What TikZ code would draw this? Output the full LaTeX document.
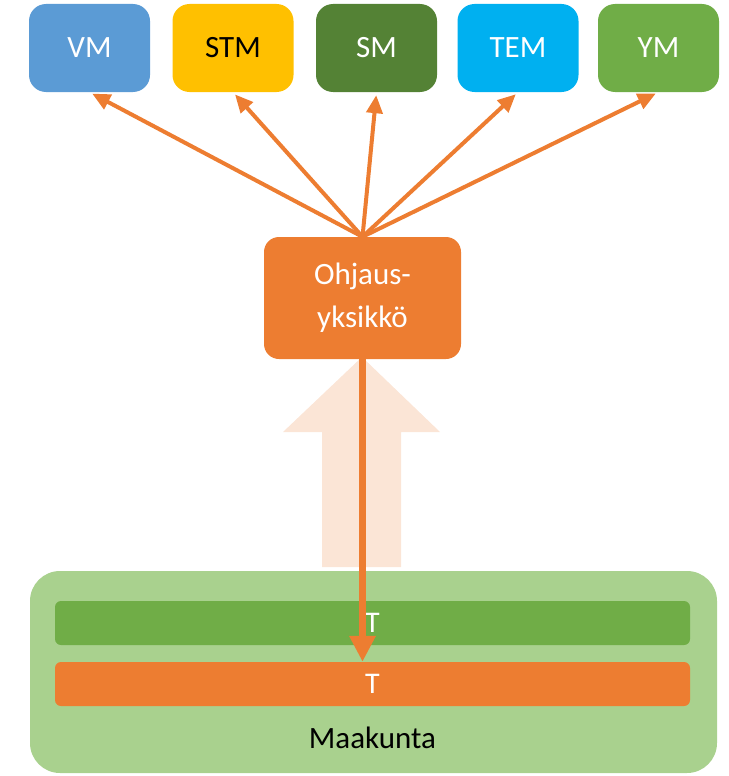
\documentclass[tikz,border=0pt]{standalone}
\usepackage{fontspec}
\setmainfont{Carlito}
\usetikzlibrary{arrows.meta}
\definecolor{cvm}{HTML}{5B9BD5}
\definecolor{cstm}{HTML}{FFC000}
\definecolor{csm}{HTML}{548235}
\definecolor{ctem}{HTML}{00B0F0}
\definecolor{cym}{HTML}{70AD47}
\definecolor{corange}{HTML}{ED7D31}
\definecolor{cpale}{HTML}{FBE5D6}
\definecolor{cmaak}{HTML}{A9D18E}
\definecolor{cbar}{HTML}{70AD47}
\tikzset{
  topbox/.style={rectangle, rounded corners=17pt, minimum width=121pt, minimum height=88pt, inner sep=0pt, text=white, font=\fontsize{31}{37}\selectfont},
  barbox/.style={rectangle, rounded corners=6pt, minimum width=635pt, minimum height=44pt, inner sep=0pt, text=white, font=\fontsize{30}{36}\selectfont},
  toparrow/.style={draw=corange, line width=4pt, -{Triangle[length=18pt,width=16pt]}, shorten >=3pt},
}
\begin{document}
\begin{tikzpicture}[x=1pt,y=-1pt]
\useasboundingbox (0,0) rectangle (728,776);
% top boxes
\node[topbox, fill=cvm] (vm) at (89.5,48) {VM};
\node[topbox, fill=cstm, text=black] (stm) at (233,48) {STM};
\node[topbox, fill=csm] (sm) at (376.5,48) {SM};
\node[topbox, fill=ctem] (tem) at (518,48) {TEM};
\node[topbox, fill=cym] (ym) at (658.5,48) {YM};
% pale big arrow
\fill[cpale] (362,357) -- (440,432) -- (401,432) -- (401,567) -- (322,567) -- (322,432) -- (283,432) -- cycle;
% steering unit
\node[rectangle, rounded corners=15pt, fill=corange, minimum width=197pt, minimum height=122pt, inner sep=0pt, text=white, align=center, font=\fontsize{31}{43}\selectfont] (ohj) at (362.5,298) {Ohjaus-\\yksikkö};
% maakunta
\node[rectangle, rounded corners=30pt, fill=cmaak, minimum width=687pt, minimum height=202pt, inner sep=0pt] (maak) at (373.5,672) {};
\node[barbox, fill=cbar] (tg) at (372.5,623) {T};
\node[barbox, fill=corange] (to) at (372.5,684) {T};
\node[font=\fontsize{31}{37}\selectfont, text=black] (mlabel) at (372.5,738) {Maakunta};
% arrows to ministries
\foreach \n in {vm,stm,sm,tem,ym} {
  \draw[toparrow] (ohj.north) -- (\n.south);
}
% vertical arrow
\coordinate (vstart) at (ohj.south);
\draw[draw=corange, line width=7pt, -{Triangle[length=26pt,width=25pt]}] (vstart) -- (vstart |- to.north);
\end{tikzpicture}
\end{document}
